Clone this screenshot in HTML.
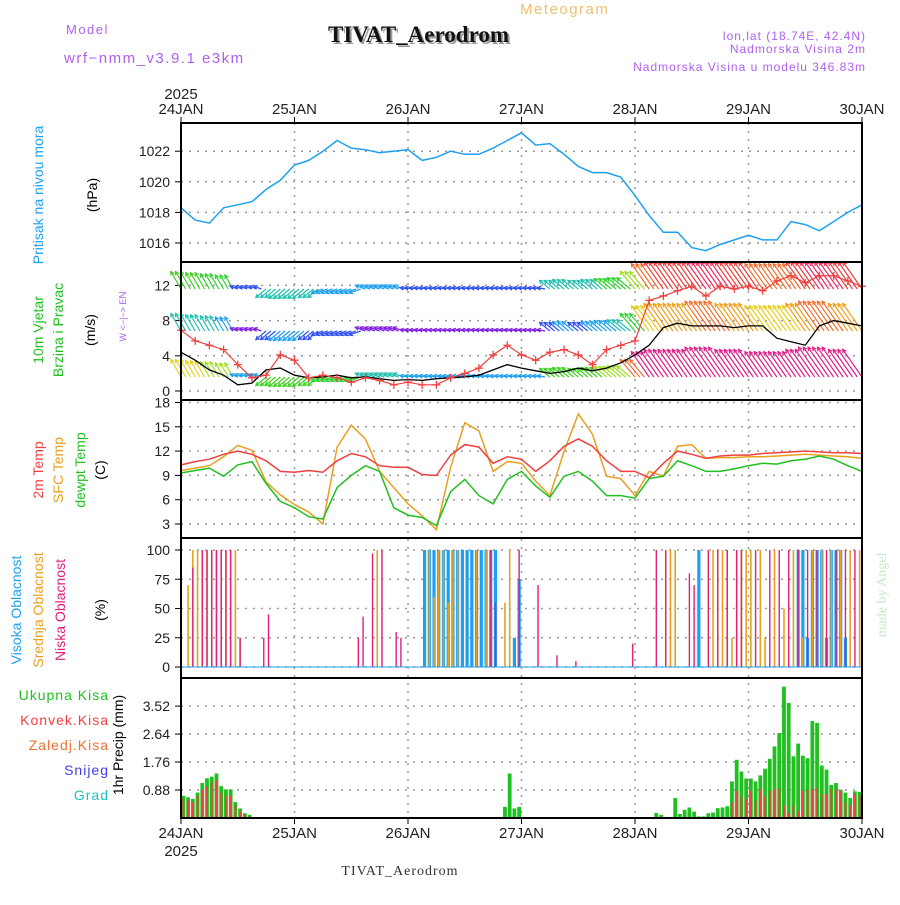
<!DOCTYPE html>
<html><head><meta charset="utf-8"><style>
body{margin:0;background:#fff;}
svg text{font-family:"Liberation Sans",sans-serif;}
svg text.serif{font-family:"Liberation Serif",serif;}
</style></head><body>
<svg id="chart" width="900" height="900" xmlns="http://www.w3.org/2000/svg">
<rect width="900" height="900" fill="#fff"/>
<g id="txt">
<text x="520" y="14" font-size="15" fill="#f0c070" letter-spacing="1.5">Meteogram</text>
<text x="330" y="44" class="serif" font-size="23" font-weight="bold" fill="#999">TIVAT_Aerodrom</text>
<text x="328" y="42" class="serif" font-size="23" font-weight="bold" fill="#111">TIVAT_Aerodrom</text>
<text x="66" y="34" font-size="13" fill="#b060f0" letter-spacing="1.5">Model</text>
<text x="64" y="63" font-size="15" fill="#b060f0" letter-spacing="1.5">wrf−nmm_v3.9.1 e3km</text>
<text x="866" y="40" font-size="12" fill="#b060f0" text-anchor="end" letter-spacing="1">lon,lat (18.74E, 42.4N)</text>
<text x="866" y="53" font-size="12" fill="#b060f0" text-anchor="end" letter-spacing="1">Nadmorska Visina 2m</text>
<text x="866" y="71" font-size="12" fill="#b060f0" text-anchor="end" letter-spacing="1">Nadmorska Visina u modelu 346.83m</text>
<text x="400" y="875" class="serif" font-size="14" fill="#333" text-anchor="middle" letter-spacing="1">TIVAT_Aerodrom</text>
<text x="181" y="99" font-size="15" fill="#222" text-anchor="middle">2025</text>
<text x="181" y="856" font-size="15" fill="#222" text-anchor="middle">2025</text>
<text transform="translate(886,595) rotate(-90)" class="serif" font-size="14" fill="#c8e8c8" text-anchor="middle">made by Angel</text>
</g>
<g id="g"></g>
</svg>
<script>
// ---- data ----
const days=['24JAN','25JAN','26JAN','27JAN','28JAN','29JAN','30JAN'];
const pressure=[1018.3,1017.5,1017.3,1018.3,1018.5,1018.7,1019.5,1020.1,1021.1,1021.4,1022,1022.7,1022.2,1022.1,1021.9,1022,1022.1,1021.4,1021.6,1022,1021.8,1021.8,1022.2,1022.7,1023.2,1022.4,1022.5,1021.8,1021,1020.6,1020.6,1020.3,1019.1,1017.8,1016.7,1016.7,1015.7,1015.5,1015.9,1016.2,1016.5,1016.2,1016.2,1017.4,1017.2,1016.8,1017.4,1018,1018.5];
const windRed=[6.9,5.7,5.2,4.7,3.0,1.5,1.8,4.1,3.5,1.5,1.8,1.5,1.0,1.5,1.2,0.7,1.0,0.7,0.7,1.5,2.0,2.6,4.1,5.2,4.1,3.5,4.4,4.7,4.1,3.0,4.7,5.2,5.7,10.3,10.8,11.4,11.9,10.8,11.9,11.6,11.9,11.4,12.5,13.1,12.3,13.1,13.1,12.5,11.9];
const windBlack=[4.4,3.5,2.4,1.8,0.7,0.9,2.4,2.6,1.8,1.5,1.6,1.8,1.5,1.6,1.4,1.2,1.3,1.2,1.4,1.5,1.6,1.8,2.4,3.0,2.6,2.3,2.0,2.2,2.6,2.3,2.6,3.2,4.1,5.2,7.2,7.7,7.4,7.4,7.4,7.2,7.4,7.4,6.0,5.6,5.2,7.4,8.0,7.7,7.4];
const windToDir=[330,330,330,330,290,290,230,230,230,230,250,250,250,290,290,290,280,280,280,280,280,280,280,280,280,280,310,310,310,310,310,310,320,325,325,325,325,325,325,325,325,325,325,325,325,325,325,325,325];
const windSpd=[6,5.5,5,4.5,1.5,1.5,3.5,4,4,3.5,3,3,3,2.5,2.5,2.5,1.5,1.5,1.5,1.5,1.5,1.5,1.5,1.5,1.5,1.5,3.5,4,3.5,4,4.5,5,7,10,11,11,11,12,12,11,11,10,10,10,11,12,12,11,11];
const t2m=[10.3,10.7,11.0,11.6,12.0,11.6,10.8,9.5,9.4,9.6,9.4,10.8,11.7,11.3,10.2,10.0,10.0,9.1,9.0,11.5,12.8,12.5,10.5,11.3,11.0,9.5,10.8,12.6,13.5,12.6,10.8,9.5,9.5,8.7,10.5,12,11.6,11.1,11.4,11.5,11.5,11.7,11.8,11.9,12,11.9,11.8,11.8,11.7];
const tsfc=[9.6,9.9,10.2,11.3,12.7,12.1,8.2,6.6,5.4,4.5,3.0,12.5,15.2,13.5,9.5,7.5,5.5,4.0,2.3,10,15.5,14.5,9.5,10.7,10.5,8.3,6.5,12,16.6,14.1,8.9,8.6,6.5,9.5,8.9,12.6,12.8,11.1,11.2,11.2,11.3,11.3,11.4,11.5,11.6,11.5,11.4,11.3,11.1];
const tdew=[9.3,9.6,9.9,8.9,10.3,10.7,8.0,5.8,5.0,3.9,3.6,7.5,9.0,10.2,9.5,5.0,4.1,3.8,2.8,7.0,8.5,6.5,5.5,8.5,9.5,7.7,6.3,8.9,9.5,8.3,6.5,6.5,6.2,8.6,8.9,10.8,10.2,9.5,9.5,9.8,10.2,10.5,10.4,10.8,11,11.4,11,10.2,9.5];
const precipHours=[0,1,2,3,4,5,6,7,8,9,10,11,12,13,14,68,69,70,71,99,100,101,104,105,106,107,108,109,110,111,112,113,114,115,116,117,118,119,120,121,122,123,124,125,126,127,128,129,130,131,132,133,134,135,136,137,138,139,140,141,142,143];
const precipTotal=[0.7,0.65,0.6,0.8,1.1,1.25,1.3,1.4,1.0,0.9,0.9,0.5,0.3,0.15,0.1,0.35,1.4,0.3,0.35,0.03,0.16,0.1,0.63,0.13,0.26,0.33,0.2,0.05,0.05,0.15,0.17,0.31,0.33,0.37,1.15,1.83,1.46,1.24,1.24,1.15,1.34,1.55,1.86,2.25,2.67,4.13,3.62,1.94,2.34,1.96,1.88,3.05,2.99,1.65,1.52,1.04,1.1,0.89,0.8,0.63,0.84,0.82];
const precipConv=[0.6,0.55,0.5,0.7,0.9,1.0,1.1,1.2,0.8,0.7,0.7,0.4,0.2,0.1,0.05,0,0,0,0,0,0,0,0,0,0,0,0,0,0,0,0,0,0,0,0.5,0.85,0.7,0.6,0.85,0.55,0.9,0.7,0.85,0.9,0.95,0.4,0.15,0.4,0.2,0.85,0.9,0.9,0.95,0.75,0.75,0.9,0.9,0.85,0.5,0.4,0.75,0.7];
const lowHours=[2,4,5,6,7,8,9,10,12,17,18,37,38,40,42,45,46,65,66,71,75,79,83,95,100,102,107,108,111,113,115,117,118,121,124,126,128,130,132,134,136,138,140,142];
const lowVals=[85,100,100,100,100,100,100,100,25,25,45,25,43,97,100,30,25,100,55,100,70,10,5,20,100,100,80,70,100,100,100,100,100,100,100,100,100,100,100,100,100,100,100,100];
const midHours=[1,2,3,4,5,6,7,8,9,10,11,12,41,52,53,54,55,56,57,58,62,64,68,69,102,103,104,112,113,114,115,116,117,118,119,120,122,123,125,127,129,131,133,135,137,139,141,143];
const midVals=[70,100,100,100,100,100,100,100,100,100,100,25,100,100,60,100,100,55,100,100,100,100,55,100,100,100,100,100,100,100,100,25,100,100,100,100,100,25,100,50,100,25,100,100,100,100,100,100];
const highHours=[51,52,53,54,55,56,57,58,59,60,61,62,63,64,65,66,70,71,109,130,131,132,133,134,135,136,137,138,139,140];
const highVals=[100,100,100,100,100,100,100,100,100,100,100,100,100,100,100,100,25,75,100,100,100,25,100,100,100,25,100,100,100,25];

// ---- geometry ----
const X0=181,X1=862,HRS=144;
const xs=h=>X0+h*(X1-X0)/HRS;
const NS="http://www.w3.org/2000/svg";
const G=document.getElementById('g');
function mk(tag,attrs,parent){const e=document.createElementNS(NS,tag);for(const k in attrs)e.setAttribute(k,attrs[k]);(parent||G).appendChild(e);return e;}
function txt(x,y,s,attrs){const e=mk('text',Object.assign({x:x,y:y},attrs));e.textContent=s;return e;}
const panels=[[123,262],[262,400],[400,538],[538,678],[678,818]];
const yP=v=>243-(v-1016)*15.3;
const yW=v=>391-v*8.8;
const yT=v=>524-(v-3)*8.1;
const yC=v=>667-v*1.17;
const yR=v=>818-v*31.8;

// grid
for(let d=0;d<=6;d++){const x=xs(d*24);
 const l=mk('line',{x1:x,x2:x,y1:123,y2:818,stroke:'#999','stroke-dasharray':'2,6','stroke-width':1.5});
 
 
 const t1=txt(x,114,days[d],{'font-size':15,fill:'#222','text-anchor':'middle'});
 
 
 const t2=txt(x,838,days[d],{'font-size':15,fill:'#222','text-anchor':'middle'});
 
 
}
function hgrid(y,label){const l=mk('line',{x1:X0,x2:X1,y1:y,y2:y,stroke:'#999','stroke-dasharray':'2,6','stroke-width':1.5});
 
 
 const t=txt(170,y+5,label,{'font-size':14,fill:'#222','text-anchor':'end'});
 
 
 mk('line',{x1:X0-6,x2:X0,y1:y,y2:y,stroke:'#000'});}
[1016,1018,1020,1022].forEach(v=>hgrid(yP(v),v));
[0,4,8,12].forEach(v=>hgrid(yW(v),v));
[3,6,9,12,15,18].forEach(v=>hgrid(yT(v),v));
[0,25,50,75,100].forEach(v=>hgrid(yC(v),v));
[0.88,1.76,2.64,3.52].forEach(v=>hgrid(yR(v),v.toFixed(2)));

function line(arr,yf,col,name,w){let d='';arr.forEach((v,i)=>{d+=(i?'L':'M')+xs(i*3).toFixed(1)+','+yf(v).toFixed(1);});
 const p=mk('path',{d:d,fill:'none',stroke:col,'stroke-width':w||1.5});
 
 return p;}
line(pressure,yP,'#1ea0f0','pressure-line');

// wind arrows
function spdCol(s){const c=['#8020e0','#8020e0','#3050f0','#20a0f0','#20c0b0','#30d030','#40d020','#a0e020','#e8d020','#f0a020','#f07030','#f04040','#f03060','#e0208a'];return c[Math.max(0,Math.min(13,Math.round(s)))];}
const rows=[[289,1.0,0],[331,0.9,-1],[377,1.15,1.5]];
const clipTop=262,clipBot=399;
rows.forEach(r=>{
 for(let h=0;h<=HRS;h++){const i=Math.floor(h/3);
  const s=windSpd[i];const L=4+s*2.7;const a=windToDir[i]*Math.PI/180;
  const x=xs(h),y=r[0];
  let x2=x+Math.sin(a)*L,y2=y-Math.cos(a)*L;
  if(y2<clipTop){const f=(y-clipTop)/(y-y2);x2=x+(x2-x)*f;y2=clipTop;}
  const col=spdCol(s*r[1]+r[2]);
  const ln=mk('line',{x1:x,y1:y,x2:x2.toFixed(1),y2:y2.toFixed(1),stroke:col,'stroke-width':1.2});
  
  
  const hl=4,b1=a+Math.PI-0.5,b2=a+Math.PI+0.5;
  const hd=mk('path',{d:`M${(x2+Math.sin(b1)*hl).toFixed(1)},${(y2-Math.cos(b1)*hl).toFixed(1)}L${x2.toFixed(1)},${y2.toFixed(1)}L${(x2+Math.sin(b2)*hl).toFixed(1)},${(y2-Math.cos(b2)*hl).toFixed(1)}`,fill:'none',stroke:col,'stroke-width':1.2});
  
  
 }
});
line(windBlack,yW,'#000','wind-black-line',1.3);
line(windRed,yW,'#f04040','wind-red-line',1.2);
windRed.forEach((v,i)=>{const x=xs(i*3),y=yW(v);
 const m=mk('path',{d:`M${x-4},${y}h8M${x},${y-4}v8`,stroke:'#f04040','stroke-width':1.3});
 
 });

line(tsfc,yT,'#e8a020','sfc-temp-line');
line(t2m,yT,'#f04040','t2m-line');
line(tdew,yT,'#20c020','dewpoint-line');

function bars(hours,vals,yf,col,w,name){hours.forEach((h,i)=>{const x=xs(h+0.5);const y=yf(vals[i]);
 const b=mk('rect',{x:x-w/2,y:y,width:w,height:yf(0)-y,fill:col});
 
 });}
bars(highHours,highVals,yC,'#1ea0f0',3.2,'high-cloud-bar');
bars(midHours,midVals,yC,'#e8a020',1.6,'mid-cloud-bar');
bars(lowHours,lowVals,yC,'#e0207a',1.4,'low-cloud-bar');
mk('line',{x1:X0,x2:X1,y1:yC(0),y2:yC(0),stroke:'#1ea0f0','stroke-width':1});
bars(precipHours,precipTotal,yR,'#20c020',3.8,'total-precip-bar');
bars(precipHours,precipConv,yR,'#f04040',1.8,'convective-precip-bar');

// frames
panels.forEach(p=>{const r=mk('rect',{x:X0,y:p[0],width:X1-X0,height:p[1]-p[0],fill:'none',stroke:'#000','stroke-width':2});
 
 });
for(let d=0;d<=6;d++){mk('line',{x1:xs(d*24),x2:xs(d*24),y1:117,y2:123,stroke:'#000'});mk('line',{x1:xs(d*24),x2:xs(d*24),y1:818,y2:824,stroke:'#000'});}

function vlab(x,y,s,col,name,fs){const t=txt(0,0,s,{transform:`translate(${x},${y}) rotate(-90)`,'font-size':fs||14,fill:col,'text-anchor':'middle'});
 
 }
vlab(43,195,'Pritisak na nivou mora','#1ea0f0','pressure-axis-title');
vlab(97,195,'(hPa)','#000','pressure-unit');
vlab(43,330,'10m Vjetar','#20c020','wind-axis-title');
vlab(63,330,'Brzina i Pravac','#20c020','wind-axis-title-2');
vlab(95,330,'(m/s)','#000','wind-unit');
vlab(126,295,'N','#b060f0','wind-legend-n',10);
vlab(126,320,'W <−|−> E','#b060f0','wind-legend-we',9);
vlab(43,470,'2m Temp','#f04040','t2m-axis-title');
vlab(63,470,'SFC Temp','#e8a020','sfc-axis-title');
vlab(85,470,'dewpt Temp','#20c020','dew-axis-title');
vlab(105,470,'(C)','#000','temp-unit');
vlab(21,610,'Visoka Oblacnost','#1ea0f0','high-cloud-title');
vlab(43,610,'Srednja Oblacnost','#e8a020','mid-cloud-title');
vlab(65,610,'Niska Oblacnost','#e0207a','low-cloud-title');
vlab(105,610,'(%)','#000','cloud-unit');
vlab(123,745,'1hr Precip (mm)','#000','precip-axis-title');
[['Ukupna Kisa','#20c020',700],['Konvek.Kisa','#f04040',725],['Zaledj.Kisa','#f07030',750],['Snijeg','#4040f0',775],['Grad','#20c0c0',800]].forEach(a=>{
 const t=txt(109,a[2],a[0],{'font-size':14,fill:a[1],'text-anchor':'end','letter-spacing':1});
 
 });
</script>
</body></html>
